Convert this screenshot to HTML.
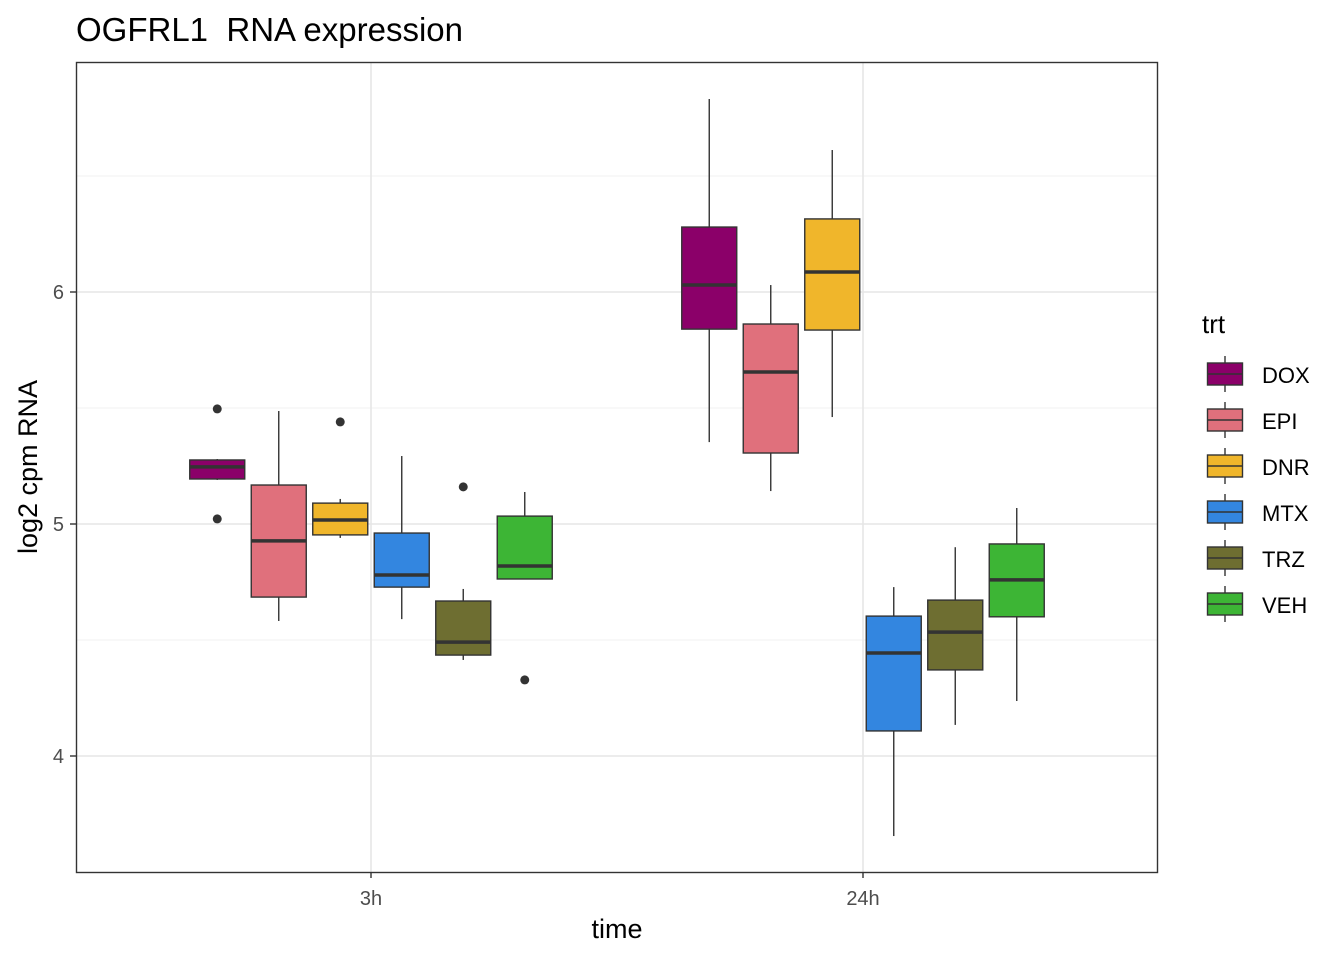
<!DOCTYPE html>
<html><head><meta charset="utf-8"><style>
body{margin:0;background:#fff;}
svg text{font-family:"Liberation Sans",Arial,sans-serif;}
</style></head><body>
<svg id="chart" width="1344" height="960" xmlns="http://www.w3.org/2000/svg">
<rect width="1344" height="960" fill="#fff"/>
<text x="76" y="41" font-size="33" fill="#000" style="white-space:pre">OGFRL1  RNA expression</text>
<g id="grid"></g>
<g id="boxes"></g>
<rect x="76.5" y="62.5" width="1081" height="810" fill="none" stroke="#333" stroke-width="1.4"/>
<g id="axes"></g>
<text x="617" y="938" font-size="27" text-anchor="middle">time</text>
<text transform="translate(37,467) rotate(-90)" font-size="27" text-anchor="middle">log2 cpm RNA</text>
<text x="1202" y="333" font-size="26">trt</text>
<g id="legend"></g>
</svg>
<script>
const timePoints=["3h","24h"];
const treatments=["DOX","EPI","DNR","MTX","TRZ","VEH"];
const colors=["#8B0069","#E0707C","#F0B62B","#3386E0","#6E6E31","#3DB535"];
const yTicks=[4,5,6];
const yMinor=[4.5,5.5,6.5];
// per time, per treatment: [lowWhisker,q1,median,q3,highWhisker]
const stats3h=[[5.19,5.194,5.246,5.276,5.28],[4.582,4.685,4.927,5.168,5.487],[4.94,4.953,5.017,5.09,5.108],[4.59,4.728,4.78,4.961,5.293],[4.414,4.435,4.491,4.668,4.72],[4.763,4.763,4.819,5.034,5.138]];
const stats24h=[[5.353,5.84,6.03,6.28,6.832],[5.142,5.306,5.655,5.862,6.03],[5.461,5.836,6.086,6.315,6.612],[3.655,4.108,4.444,4.603,4.728],[4.134,4.371,4.534,4.672,4.9],[4.237,4.6,4.759,4.914,5.069]];
const outliers3h=[[5.496,5.022],[],[5.44],[],[5.16],[4.328]];
const outliers24h=[[],[],[],[],[],[]];
const NS="http://www.w3.org/2000/svg";
const y=v=>524-(v-5)*232;
const xCenter=i=>371+i*492;
const dodge=j=>(j-2.5)*61.5;
const boxW=55;
function mk(tag,attrs,parent){const e=document.createElementNS(NS,tag);for(const k in attrs)e.setAttribute(k,attrs[k]);parent.appendChild(e);return e;}
const grid=document.getElementById('grid'),boxes=document.getElementById('boxes'),axes=document.getElementById('axes'),legend=document.getElementById('legend');
yMinor.forEach(v=>{const l=mk('line',{x1:76,x2:1158,y1:y(v),y2:y(v),stroke:'#f0f0f0','stroke-width':1},grid);

});
yTicks.forEach(v=>{const l=mk('line',{x1:76,x2:1158,y1:y(v),y2:y(v),stroke:'#e6e6e6','stroke-width':1.6},grid);


const t=mk('line',{x1:70,x2:76,y1:y(v),y2:y(v),stroke:'#333','stroke-width':1.4},axes);


const tx=mk('text',{x:64,y:y(v)+7,'font-size':20,fill:'#4d4d4d','text-anchor':'end'},axes);tx.textContent=v;

});
timePoints.forEach((tp,i)=>{const x=xCenter(i);
const l=mk('line',{x1:x,x2:x,y1:62,y2:872,stroke:'#e6e6e6','stroke-width':1.6},grid);


const t=mk('line',{x1:x,x2:x,y1:872,y2:878,stroke:'#333','stroke-width':1.4},axes);


const tx=mk('text',{x:x,y:905,'font-size':20,fill:'#4d4d4d','text-anchor':'middle'},axes);tx.textContent=tp;


const st=i===0?stats3h:stats24h, ou=i===0?outliers3h:outliers24h;
st.forEach((s,j)=>{const cx=x+dodge(j);
const g=mk('g',{},boxes);


mk('line',{x1:cx,x2:cx,y1:y(s[4]),y2:y(s[3]),stroke:'#333','stroke-width':1.4},g);
mk('line',{x1:cx,x2:cx,y1:y(s[1]),y2:y(s[0]),stroke:'#333','stroke-width':1.4},g);
mk('rect',{x:cx-boxW/2,y:y(s[3]),width:boxW,height:y(s[1])-y(s[3]),fill:colors[j],stroke:'#333','stroke-width':1.4},g);
mk('line',{x1:cx-boxW/2,x2:cx+boxW/2,y1:y(s[2]),y2:y(s[2]),stroke:'#333','stroke-width':3.5},g);
ou[j].forEach(v=>{const c=mk('circle',{cx:cx,cy:y(v),r:4.5,fill:'#333'},g);

});
});});
treatments.forEach((tr,j)=>{const cy=374+j*46;
const g=mk('g',{},legend);


mk('line',{x1:1225,x2:1225,y1:cy-18,y2:cy+18,stroke:'#333','stroke-width':1.4},g);
mk('rect',{x:1207.5,y:cy-11,width:35,height:22,fill:colors[j],stroke:'#333','stroke-width':1.4},g);
mk('line',{x1:1207.5,x2:1242.5,y1:cy,y2:cy,stroke:'#333','stroke-width':1.4},g);
const t=mk('text',{x:1262,y:cy+9,'font-size':22},g);t.textContent=tr;});
</script>
</body></html>
